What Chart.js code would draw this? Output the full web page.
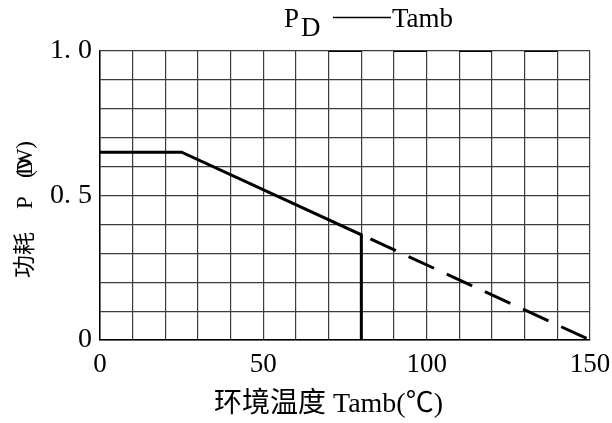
<!DOCTYPE html>
<html>
<head>
<meta charset="utf-8">
<script src="https://cdn.jsdelivr.net/npm/chart.js@4.4.1/dist/chart.umd.min.js"></script>
<style>
  body { margin: 0; background: #fff; }
  #wrap { width: 612px; height: 423px; }
</style>
</head>
<body>
<div id="wrap"><canvas id="pdChart" width="612" height="423"></canvas></div>
<script>
// derating curve P_D vs Tamb
const solidTemp = [0, 25, 80, 80];
const solidPower = [0.65, 0.65, 0.364, 0];
const dashTemp = [80, 150];
const dashPower = [0.364, 0];

// darker grid segments on the top / bottom border (scan look)
const topDark = [[70, 80], [90, 100], [110, 120], [130, 140]];
const bottomDark = [[60, 70], [80, 90], [100, 110], [120, 130]];

const xTickLabels = { 0: '0', 50: '50', 100: '100', 150: '150' };
const yTickLabels = { 0: '0', 5: '0. 5', 10: '1. 0' };

const toPoints = (xs, ys) => xs.map((x, i) => ({ x: x, y: ys[i] }));
const segPoints = (segs, y) => {
  const pts = [];
  segs.forEach(s => { pts.push({ x: s[0], y: y }, { x: s[1], y: y }, { x: s[1], y: null }); });
  return pts;
};

const serif = '"Liberation Serif", "DejaVu Serif", serif';

const textPlugin = {
  id: 'texts',
  afterDraw(chart) {
    const ctx = chart.ctx;
    ctx.save();
    ctx.fillStyle = '#000';
    ctx.strokeStyle = '#000';
    ctx.textBaseline = 'alphabetic';
    ctx.textAlign = 'left';

    // title  P_D ——Tamb
    ctx.font = '27px ' + serif;
    ctx.fillText('P', 284, 27);
    ctx.fillText('D', 301, 36);
    ctx.lineWidth = 1.5;
    ctx.beginPath();
    ctx.moveTo(333, 17.5);
    ctx.lineTo(391, 17.5);
    ctx.stroke();
    ctx.fillText('Tamb', 392, 27);

    // x axis title
    ctx.font = '28px "Liberation Serif", "Noto Sans CJK SC"';
    ctx.fillText('环境温度 Tamb(℃)', 214, 412);

    // y axis title (rotated), pieces spaced like the scan
    ctx.translate(32, 278);
    ctx.rotate(-Math.PI / 2);
    ctx.font = '23px "Liberation Serif", "Noto Sans CJK SC"';
    ctx.fillText('功耗', 0, 0);
    ctx.fillText('P', 69, 0);
    ctx.fillText('(W)', 100, 0);
    ctx.fillText('D', 103, 0);
    ctx.restore();
  }
};

new Chart(document.getElementById('pdChart'), {
  type: 'line',
  data: {
    datasets: [
      {
        data: toPoints(solidTemp, solidPower),
        borderColor: '#000',
        borderWidth: 3,
        pointRadius: 0,
        tension: 0
      },
      {
        data: toPoints(dashTemp, dashPower),
        borderColor: '#000',
        borderWidth: 3,
        borderDash: [28, 14],
        borderDashOffset: 32,
        pointRadius: 0,
        tension: 0
      },
      {
        data: segPoints(topDark, 1),
        borderColor: '#000',
        borderWidth: 2,
        pointRadius: 0,
        spanGaps: false
      },
      {
        data: segPoints(bottomDark, 0),
        borderColor: '#000',
        borderWidth: 2,
        pointRadius: 0,
        spanGaps: false
      }
    ]
  },
  options: {
    responsive: false,
    devicePixelRatio: 1,
    animation: false,
    layout: { padding: { left: 0, right: 22, top: 51, bottom: 0 } },
    plugins: {
      legend: { display: false },
      tooltip: { enabled: false },
      title: { display: false }
    },
    scales: {
      x: {
        type: 'linear',
        min: 0,
        max: 150,
        afterFit: s => { s.height = 83; s.paddingLeft = 0; s.paddingRight = 0; },
        ticks: {
          stepSize: 10,
          autoSkip: false,
          maxRotation: 0,
          padding: 9,
          color: '#000',
          font: { family: serif, size: 27 },
          callback: v => xTickLabels[v] !== undefined ? xTickLabels[v] : ''
        },
        grid: { color: '#3c3c3c', lineWidth: 1.2, drawTicks: false },
        border: { color: '#000', width: 1.5 }
      },
      y: {
        type: 'linear',
        min: 0,
        max: 1,
        afterFit: s => { s.width = 100; s.paddingTop = 0; s.paddingBottom = 0; },
        ticks: {
          stepSize: 0.1,
          autoSkip: false,
          padding: 8,
          color: '#000',
          font: { family: serif, size: 28 },
          callback: v => {
            const k = Math.round(v * 10);
            return yTickLabels[k] !== undefined ? yTickLabels[k] : '';
          }
        },
        grid: { color: '#3c3c3c', lineWidth: 1.2, drawTicks: false },
        border: { color: '#000', width: 1.5 }
      }
    }
  },
  plugins: [textPlugin]
});
</script>
</body>
</html>
